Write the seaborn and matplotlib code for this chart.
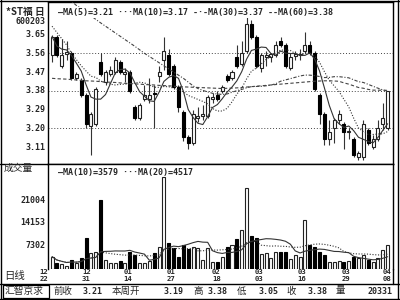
import numpy as np
import pandas as pd
import matplotlib
matplotlib.use("Agg")
import matplotlib.pyplot as plt
import matplotlib.transforms as mtransforms
import seaborn as sns

# ---------------- data ----------------
opens = [3.55, 3.64, 3.50, 3.555, 3.56, 3.44, 3.43, 3.36, 3.21, 3.22,
         3.52, 3.42, 3.46, 3.47, 3.52, 3.46, 3.47, 3.30, 3.25, 3.34,
         3.34, 3.37, 3.45, 3.53, 3.55, 3.50, 3.40, 3.28, 3.16, 3.13,
         3.25, 3.26, 3.26, 3.34, 3.36, 3.38, 3.45, 3.44, 3.54, 3.51,
         3.57, 3.70, 3.64, 3.49, 3.54, 3.54, 3.55, 3.62, 3.60, 3.49,
         3.545, 3.55, 3.57, 3.60, 3.56, 3.36, 3.27, 3.15, 3.20, 3.24,
         3.22, 3.18, 3.15, 3.06, 3.06, 3.19, 3.11, 3.15, 3.22, 3.20]
closes = [3.64, 3.55, 3.55, 3.565, 3.44, 3.46, 3.36, 3.22, 3.27, 3.39,
          3.46, 3.47, 3.48, 3.53, 3.47, 3.47, 3.38, 3.25, 3.31, 3.36,
          3.36, 3.365, 3.47, 3.57, 3.46, 3.40, 3.30, 3.16, 3.13, 3.27,
          3.26, 3.27, 3.35, 3.35, 3.34, 3.40, 3.43, 3.47, 3.50, 3.56,
          3.70, 3.64, 3.50, 3.55, 3.55, 3.555, 3.60, 3.60, 3.50, 3.54,
          3.555, 3.555, 3.60, 3.56, 3.39, 3.27, 3.15, 3.18, 3.24, 3.27,
          3.18, 3.185, 3.07, 3.08, 3.22, 3.13, 3.15, 3.20, 3.25, 3.38]
highs = [3.65, 3.65, 3.63, 3.62, 3.57, 3.47, 3.44, 3.37, 3.28, 3.40,
         3.56, 3.48, 3.50, 3.54, 3.53, 3.49, 3.48, 3.31, 3.32, 3.41,
         3.44, 3.41, 3.50, 3.64, 3.58, 3.51, 3.41, 3.29, 3.17, 3.29,
         3.30, 3.31, 3.36, 3.37, 3.38, 3.41, 3.46, 3.48, 3.60, 3.62,
         3.74, 3.72, 3.65, 3.56, 3.57, 3.56, 3.62, 3.64, 3.61, 3.56,
         3.57, 3.58, 3.66, 3.62, 3.57, 3.37, 3.28, 3.24, 3.25, 3.29,
         3.23, 3.20, 3.16, 3.09, 3.24, 3.20, 3.17, 3.24, 3.32, 3.38]
lows = [3.52, 3.54, 3.49, 3.53, 3.43, 3.43, 3.35, 3.20, 3.07, 3.21,
        3.45, 3.41, 3.45, 3.46, 3.46, 3.42, 3.37, 3.24, 3.24, 3.33,
        3.32, 3.20, 3.42, 3.48, 3.45, 3.39, 3.28, 3.14, 3.10, 3.12,
        3.23, 3.24, 3.25, 3.32, 3.33, 3.37, 3.42, 3.43, 3.49, 3.50,
        3.56, 3.63, 3.49, 3.47, 3.50, 3.52, 3.54, 3.59, 3.49, 3.48,
        3.53, 3.53, 3.56, 3.55, 3.38, 3.22, 3.12, 3.12, 3.13, 3.22,
        3.10, 3.15, 3.06, 3.05, 3.05, 3.12, 3.10, 3.14, 3.19, 3.19]
volumes = [3750, 1730, 1520, 910, 2740, 1930, 3250, 9440, 4770, 5280,
           21000, 2740, 1930, 1930, 2540, 1930, 5280, 4260, 1730, 1930,
           2540, 4970, 6800, 28000, 7820, 6290, 3750, 7310, 5990, 6800,
           6290, 2740, 6290, 2230, 2230, 3750, 6800, 7310, 9000, 11900,
           24700, 10000, 9440, 4570, 4770, 3250, 5280, 5280, 5280, 2940,
           4260, 3750, 14900, 7310, 6600, 5070, 4260, 2230, 2230, 2540,
           2230, 2540, 3750, 3250, 4260, 2740, 2230, 3250, 5790, 7310]
# moving-average values read off the picture where the window reaches back
# before the first visible day (the rest is computed from the closes)
ma10_early = [3.69, 3.66, 3.63, 3.60, 3.56, 3.53, 3.50, 3.475, 3.45]
ma30_early = [3.87, 3.855, 3.84, 3.825, 3.81, 3.79, 3.775, 3.757, 3.74, 3.723,
              3.706, 3.69, 3.674, 3.658, 3.642, 3.626, 3.61, 3.594, 3.577, 3.56,
              3.545, 3.53, 3.515, 3.50, 3.485, 3.47, 3.455, 3.44, 3.422]
ma60_early = [3.44, 3.438, 3.437, 3.436, 3.434, 3.432, 3.43, 3.428, 3.427, 3.426,
              3.424, 3.422, 3.421, 3.42, 3.418, 3.416, 3.415, 3.413, 3.412, 3.41,
              3.409, 3.408, 3.406, 3.405, 3.404, 3.402, 3.40, 3.399, 3.398, 3.397,
              3.396, 3.395, 3.394, 3.393, 3.392, 3.391, 3.392, 3.393, 3.394, 3.396,
              3.398, 3.40, 3.402, 3.404, 3.406, 3.408, 3.41, 3.412, 3.414, 3.416,
              3.418, 3.42, 3.422, 3.424, 3.426, 3.427, 3.428, 3.428, 3.427]

date_ticks = [-1.68, 7.03, 15.55, 24.52, 33.78, 42.54, 51.42, 60.43, 68.84]
date_months = ["12", "12", "01", "01", "02", "03", "03", "03", "04"]
date_days = ["22", "31", "14", "27", "18", "03", "16", "29", "08"]
price_ticks = [3.65, 3.56, 3.47, 3.38, 3.29, 3.20, 3.11]
price_grid = [3.56, 3.38, 3.20]
vol_ticks = [21004, 14153, 7302]

stock_name = "*ST福 日"
stock_code = "600203"
price_legend = "—MA(5)=3.21 ···MA(10)=3.17 -·-MA(30)=3.37 --MA(60)=3.38"
vol_legend = "—MA(10)=3579 ···MA(20)=4517"
brand = "汇智京求"
info_labels = ["前收", "本周开", "高", "低", "收", "量"]
info_values = ["3.21", "3.19", "3.38", "3.05", "3.38", "20331"]

# ---------------- setup ----------------
sns.set_theme(style="white")
plt.rcParams["font.family"] = ["DejaVu Sans Mono", "Noto Sans CJK SC"]
plt.rcParams["axes.linewidth"] = 1.0
CJK = ["Noto Sans CJK SC", "DejaVu Sans"]

W, H = 400, 300
fig = plt.figure(figsize=(4, 3), dpi=100)
fig.patch.set_facecolor("white")


def px_axes(x0, y0, x1, y1):
    return fig.add_axes([x0 / W, 1 - y1 / H, (x1 - x0) / W, (y1 - y0) / H])


df = pd.DataFrame({"o": opens, "c": closes, "h": highs, "l": lows, "v": volumes})
df["i"] = np.arange(len(df))
df["ma5"] = df["c"].rolling(5, min_periods=1).mean()
df["ma10"] = df["c"].rolling(10).mean()
df.loc[:len(ma10_early) - 1, "ma10"] = ma10_early
df["ma30"] = df["c"].rolling(30).mean()
df.loc[:len(ma30_early) - 1, "ma30"] = ma30_early
df["ma60"] = df["c"].rolling(60).mean()
df.loc[:len(ma60_early) - 1, "ma60"] = ma60_early
df["vma10"] = df["v"].rolling(10, min_periods=1).mean()
df["vma20"] = df["v"].rolling(20, min_periods=1).mean()
n = len(df)
XL = (-0.93, 70.1)

# ---------------- price panel ----------------
axp = px_axes(47.5, 2, 393, 164)
for s in axp.spines.values():
    s.set_color("black")
axp.set_xlim(*XL)
axp.set_ylim(3.0286, 3.8063)
for g in price_grid:
    axp.axhline(g, color="#444444", lw=0.7, ls=(0, (1, 2)), zorder=0)

bw = 0.62
for _, r in df.iterrows():
    i = r["i"]
    lo_b, hi_b = min(r["o"], r["c"]), max(r["o"], r["c"])
    if hi_b - lo_b < 0.004:
        hi_b = lo_b + 0.004
    axp.vlines(i, r["l"], lo_b, color="#333333", lw=0.8, zorder=2)
    axp.vlines(i, hi_b, r["h"], color="#333333", lw=0.8, zorder=2)
    up = r["c"] >= r["o"]
    axp.add_patch(plt.Rectangle((i - bw / 2, lo_b), bw, hi_b - lo_b,
                                facecolor="white" if up else "black",
                                edgecolor="#222222" if up else "black", lw=0.8, zorder=3))

sns.lineplot(data=df, x="i", y="ma5", ax=axp, color="#333333", lw=0.8, zorder=4)
sns.lineplot(data=df, x="i", y="ma10", ax=axp, color="#333333", lw=0.8, ls=(0, (1, 1.5)), zorder=4)
sns.lineplot(data=df, x="i", y="ma30", ax=axp, color="#444444", lw=0.8, ls=(0, (3, 1.5, 1, 1.5)), zorder=4)
sns.lineplot(data=df, x="i", y="ma60", ax=axp, color="#444444", lw=0.8, ls=(0, (3, 2)), zorder=4)
axp.set_xticks([])
axp.set_yticks([])
axp.set_xlabel("")
axp.set_ylabel("")
fig.text(58 / W, 1 - 12.5 / H, price_legend, fontsize=6.0, va="center", ha="left",
         family=["DejaVu Sans Mono"], fontweight="bold",
         bbox=dict(facecolor="white", edgecolor="none", pad=0.6), zorder=10)

# ---------------- volume panel ----------------
axv = px_axes(47.5, 164, 393, 269)
for s in axv.spines.values():
    s.set_color("black")
axv.spines["bottom"].set_visible(False)
axv.set_xlim(*XL)
axv.set_ylim(0, 31970)
for _, r in df.iterrows():
    i = r["i"]
    up = r["c"] >= r["o"]
    axv.add_patch(plt.Rectangle((i - bw / 2, 0), bw, r["v"],
                                facecolor="white" if up else "black",
                                edgecolor="#222222" if up else "black", lw=0.8, zorder=2))
sns.lineplot(data=df, x="i", y="vma10", ax=axv, color="#333333", lw=0.8, zorder=4)
sns.lineplot(data=df, x="i", y="vma20", ax=axv, color="#333333", lw=0.8, ls=(0, (1, 1.5)), zorder=4)
axv.set_yticks([])
axv.set_xticks([])
axv.set_ylabel("")
axv.set_xlabel("")
fig.text(58 / W, 1 - 172.5 / H, vol_legend, fontsize=6.0, va="center", ha="left",
         family=["DejaVu Sans Mono"], fontweight="bold", zorder=10)

# date labels under the volume panel (data x, figure y)
blend = mtransforms.blended_transform_factory(axv.transData, fig.transFigure)
for xt, mo, dd in zip(date_ticks, date_months, date_days):
    axv.text(xt, 1 - 272.5 / H, mo, transform=blend, fontsize=5.2, ha="center",
             va="center", fontweight="bold", clip_on=False)
    axv.text(xt, 1 - 279 / H, dd, transform=blend, fontsize=5.2, ha="center",
             va="center", fontweight="bold", clip_on=False)

# ---------------- left labels ----------------
def fig_text(x, y, s, **kw):
    fig.text(x / W, 1 - y / H, s, **kw)

fig_text(6, 12, stock_name, fontsize=7, va="center", ha="left", family=CJK, fontweight="bold")
fig_text(45, 22, stock_code, fontsize=6.0, va="center", ha="right", fontweight="bold")
for t in price_ticks:
    ypx = 53.3 - (t - 3.56) * 208.3
    fig_text(45.5, ypx, f"{t:.2f}", fontsize=6.0, va="center", ha="right", fontweight="bold")
fig_text(4, 168, "成交量", fontsize=7, va="center", ha="left", family=CJK)
for v in vol_ticks:
    ypx = 269 - v / 304.5
    fig_text(45.5, ypx, f"{v}", fontsize=6.0, va="center", ha="right", fontweight="bold")
fig_text(4, 275.5, "日线", fontsize=7.5, va="center", ha="left", family=CJK)

# ---------------- frame lines ----------------
def hline(y, x0, x1, lw=1.0):
    fig.add_artist(plt.Line2D([x0 / W, x1 / W], [1 - y / H, 1 - y / H], color="black", lw=lw))

def vline(x, y0, y1, lw=1.0):
    fig.add_artist(plt.Line2D([x / W, x / W], [1 - y0 / H, 1 - y1 / H], color="black", lw=lw))

hline(0.6, 0, 400)
vline(0.8, 0, 300)
vline(397.5, 0, 300)
vline(393, 269, 284)
hline(164, 0, 48)
hline(283.5, 0, 400)
hline(298.7, 0, 400)

# ---------------- info bar ----------------
fig.add_artist(plt.Rectangle((3 / W, 1 - 297.5 / H), 46 / W, 13 / H, transform=fig.transFigure,
                             facecolor="white", edgecolor="black", lw=0.9))
fig_text(5, 291, brand, fontsize=7, va="center", ha="left", family=CJK)
label_x = [54, 112, 193, 237, 286, 336]
value_x = [103, 184, 228, 279, 328, 393]
for lab, val, xl, xv in zip(info_labels, info_values, label_x, value_x):
    fig_text(xl, 291, lab, fontsize=6.8, va="center", ha="left", family=CJK)
    fig_text(xv, 291, val, fontsize=6.0, va="center", ha="right", fontweight="bold")

fig.savefig("out.png", dpi=100)
